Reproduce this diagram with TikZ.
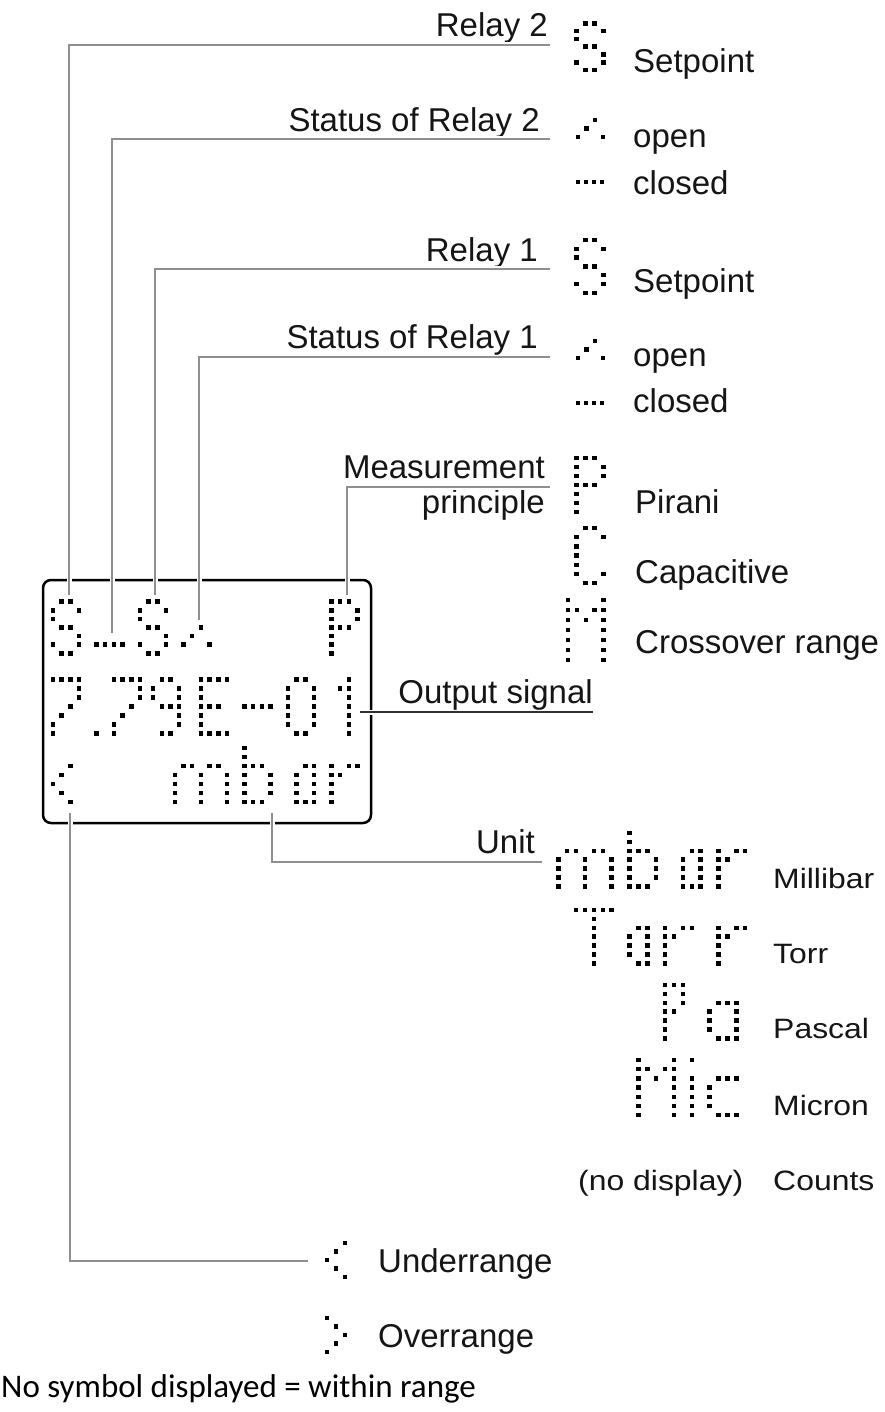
\documentclass[tikz,border=0pt]{standalone}
\usepackage{fontspec}
\setmainfont{Liberation Sans}
\newfontfamily\unitfont[FakeStretch=1.14]{Liberation Sans}
\newfontfamily\calfont{Carlito}
\definecolor{conngray}{HTML}{8F8F8F}
\definecolor{outline}{HTML}{303030}
\definecolor{txt}{HTML}{151515}
\newcommand\mainsz{\fontsize{33}{38}\selectfont}
\newcommand\unitsz{\unitfont\fontsize{28}{32}\selectfont}
\newcommand\calsz{\calfont\fontsize{33}{38}\selectfont}
% dot-matrix glyph: x0, y0, pitch x, pitch y, list of col/row
\newcommand\dm[5]{\foreach \c/\r in #5 {\fill ({#1+\c*#3},{#2+\r*#4}) +(-2.25,-2.25) rectangle +(2.25,2.25);}}
% glyph definitions (col/row)
\def\gS{1/0,2/0,0/1,3/1,0/2,1/3,2/3,3/4,0/5,3/5,1/6,2/6}
\def\gP{0/0,1/0,2/0,0/1,3/1,0/2,3/2,0/3,1/3,2/3,0/4,0/5,0/6}
\def\gPs{0/0,1/0,2/0,0/1,2/1,0/2,2/2,0/3,1/3,0/4,0/5,0/6}
\def\gC{1/0,2/0,0/1,3/1,0/2,0/3,0/4,0/5,3/5,1/6,2/6}
\def\gM{0/0,4/0,0/1,1/1,3/1,4/1,0/2,2/2,4/2,0/3,4/3,0/4,4/4,0/5,4/5,0/6,4/6}
\def\gSeven{0/0,1/0,2/0,3/0,3/1,3/2,2/3,1/4,0/5,0/6}
\def\gNine{1/0,2/0,0/1,3/1,0/2,3/2,1/3,2/3,3/3,3/4,3/5,1/6,2/6}
\def\gE{0/0,1/0,2/0,3/0,0/1,0/2,0/3,1/3,2/3,0/4,0/5,0/6,1/6,2/6,3/6}
\def\gMinus{0/3,1/3,2/3,3/3}
\def\gZero{1/0,2/0,0/1,3/1,0/2,3/2,0/3,3/3,0/4,3/4,0/5,3/5,1/6,2/6}
\def\gOne{1/0,0/1,1/1,1/2,1/3,1/4,1/5,1/6}
\def\gDot{0/6}
\def\gLt{2/2,1/3,0/4,1/5,2/6}
\def\gGt{0/2,1/3,2/4,1/5,0/6}
\def\gm{1/2,2/2,4/2,5/2,0/3,3/3,6/3,0/4,3/4,6/4,0/5,3/5,6/5,0/6,3/6,6/6}
\def\gb{0/0,0/1,0/2,1/2,2/2,0/3,3/3,0/4,3/4,0/5,3/5,0/6,1/6,2/6}
\def\ga{1/2,2/2,0/3,2/3,0/4,2/4,0/5,2/5,0/6,1/6,2/6}
\def\gaw{1/2,2/2,3/2,0/3,3/3,0/4,3/4,0/5,3/5,1/6,2/6,3/6}
\def\gr{0/2,2/2,3/2,0/3,1/3,0/4,0/5,0/6}
\def\gT{0/0,1/0,2/0,3/0,4/0,2/1,2/2,2/3,2/4,2/5,2/6}
\def\go{1/2,2/2,0/3,2/3,0/4,2/4,0/5,2/5,1/6,2/6}
\def\gi{0/0,0/2,0/3,0/4,0/5,0/6}
\def\gc{1/2,2/2,3/2,0/3,0/4,0/5,1/6,2/6,3/6}
\def\gClosed{0/5,1/5,2/5,3/5}
\def\gOpen{0/5,1/4,2/3,3/5}
\tikzset{
  conn/.style={draw=conngray, line width=1.4pt, preaction={draw=white, line width=5pt}},
  connd/.style={draw=outline, line width=1.4pt, preaction={draw=white, line width=5pt}},
  lbl/.style={inner sep=0pt, anchor=base east, font=\mainsz, text=txt},
  leg/.style={inner sep=0pt, anchor=base west, font=\mainsz, text=txt},
  unitlbl/.style={inner sep=0pt, anchor=base west, font=\unitsz, text=txt},
  lcd/.style={draw=black, line width=2.5pt, rounded corners=8pt, minimum width=328pt, minimum height=243pt, inner sep=0pt}
}
\begin{document}
\begin{tikzpicture}[x=1pt,y=-1pt]
\useasboundingbox[fill=white] (0,0) rectangle (885,1412);
% LCD
\node[lcd] (lcd) at (207,701.5) {};
% labels
\node[lbl] (relay2) at (548,37) {Relay 2};
\node[lbl] (stat2) at (540,132) {Status of Relay 2};
\node[lbl] (relay1) at (538,262) {Relay 1};
\node[lbl] (stat1) at (538,348) {Status of Relay 1};
\node[lbl] (meas) at (545,478) {Measurement};
\node[lbl] (princ) at (545,513) {principle};
\node[lbl] (outsig) at (593,703) {Output signal};
\node[lbl] (unit) at (535,853) {Unit};
\node[leg] (setp2) at (633,73) {Setpoint};
\node[leg] (open2) at (633,148) {open};
\node[leg] (closed2) at (633,195) {closed};
\node[leg] (setp1) at (633,293) {Setpoint};
\node[leg] (open1) at (633,366) {open};
\node[leg] (closed1) at (633,412) {closed};
\node[leg] (pirani) at (635,513) {Pirani};
\node[leg] (capac) at (635,583) {Capacitive};
\node[leg] (cross) at (635,653) {Crossover range};
\node[unitlbl] (millibar) at (773,888) {Millibar};
\node[unitlbl] (torr) at (773,963) {Torr};
\node[unitlbl] (pascal) at (773,1038) {Pascal};
\node[unitlbl] (micron) at (773,1115) {Micron};
\node[unitlbl] (nodisp) at (578,1190) {(no display)};
\node[unitlbl] (counts) at (773,1190) {Counts};
\node[leg] (under) at (378,1272) {Underrange};
\node[leg] (over) at (378,1347) {Overrange};
\node[inner sep=0pt, anchor=base west, font=\calsz, text=black] (note) at (1,1397) {No symbol displayed = within range};
% connector end points
\coordinate (r2s) at (69,595);   \coordinate (r2e) at (550,45);
\coordinate (s2s) at (112,633);  \coordinate (s2e) at (550,139);
\coordinate (r1s) at (155,595);  \coordinate (r1e) at (550,269);
\coordinate (s1s) at (199,620);  \coordinate (s1e) at (550,357);
\coordinate (mps) at (347,595);  \coordinate (mpe) at (550,487);
\coordinate (oss) at (360,712);  \coordinate (ose) at (593,712);
\coordinate (uns) at (272,813);  \coordinate (une) at (542,862);
\coordinate (urs) at (70,813);   \coordinate (ure) at (308,1261);
% connectors
\draw[conn] (r2s) |- (r2e);
\draw[conn] (s2s) |- (s2e);
\draw[conn] (r1s) |- (r1e);
\draw[conn] (s1s) |- (s1e);
\draw[conn] (mps) |- (mpe);
\draw[connd] (oss) -- (ose);
\draw[conn] (uns) |- (une);
\draw[conn] (urs) |- (ure);
% LCD contents: row 1
\dm{53+8.7*0}{601.7}{8.7}{8.6}{\gS}
\dm{53+8.7*5}{601.7}{8.7}{8.6}{\gClosed}
\dm{53+8.7*10}{601.7}{8.7}{8.6}{\gS}
\dm{53+8.7*15}{601.7}{8.7}{8.6}{\gOpen}
\dm{53+8.7*32}{601.7}{8.7}{8.6}{\gP}
% row 2
\dm{53+8.7*0}{679.3}{8.7}{9}{\gSeven}
\dm{53+8.7*5}{679.3}{8.7}{9}{\gDot}
\dm{53+8.7*7}{679.3}{8.7}{9}{\gSeven}
\dm{53+8.7*11.5}{679.3}{8.7}{9}{\gNine}
\dm{53+8.7*17}{679.3}{8.7}{9}{\gE}
\dm{53+8.7*22}{679.3}{8.7}{9}{\gMinus}
\dm{53+8.7*27}{679.3}{8.7}{9}{\gZero}
\dm{53+8.7*33}{679.3}{8.7}{9}{\gOne}
% row 3
\dm{53+8.7*0}{748}{8.7}{9}{\gLt}
\dm{53+8.7*14}{748}{8.7}{9}{\gm}
\dm{53+8.7*22}{748}{8.7}{9}{\gb}
\dm{53+8.7*28}{748}{8.7}{9}{\ga}
\dm{53+8.7*32}{748}{8.7}{9}{\gr}
% legend symbols
\dm{576.7}{23.3}{8.9}{7.8}{\gS}
\dm{578}{94.5}{8.4}{8.5}{\gOpen}
\dm{578}{139.5}{8}{8.5}{\gClosed}
\dm{576.7}{240}{8.9}{8.8}{\gS}
\dm{578}{315.5}{8.4}{8.5}{\gOpen}
\dm{578}{360.5}{8}{8.5}{\gClosed}
\dm{576.7}{458}{8.9}{9}{\gP}
\dm{576.7}{528}{8.9}{9.2}{\gC}
\dm{568}{600}{8.9}{10}{\gM}
% units
\dm{558.3+8.9*0}{833}{8.9}{8.9}{\gm}
\dm{558.3+8.9*8}{833}{8.9}{8.9}{\gb}
\dm{558.3+8.9*14}{833}{8.9}{8.9}{\ga}
\dm{558.3+8.9*18}{833}{8.9}{8.9}{\gr}
\dm{558.3+8.9*2}{910}{8.9}{8.9}{\gT}
\dm{558.3+8.9*8}{910}{8.9}{8.9}{\go}
\dm{558.3+8.9*12}{910}{8.9}{8.9}{\gr}
\dm{558.3+8.9*18}{910}{8.9}{8.9}{\gr}
\dm{558.3+8.9*12}{985}{8.9}{8.9}{\gPs}
\dm{558.3+8.9*17}{985}{8.9}{8.9}{\gaw}
\dm{558.3+8.9*9}{1060}{8.9}{9.2}{\gM}
\dm{558.3+8.9*15}{1060}{8.9}{9.2}{\gi}
\dm{558.3+8.9*17}{1060}{8.9}{9.2}{\gc}
% range symbols
\dm{327}{1226}{9}{8.5}{\gLt}
\dm{327}{1301}{9}{8.5}{\gGt}
\end{tikzpicture}
\end{document}
